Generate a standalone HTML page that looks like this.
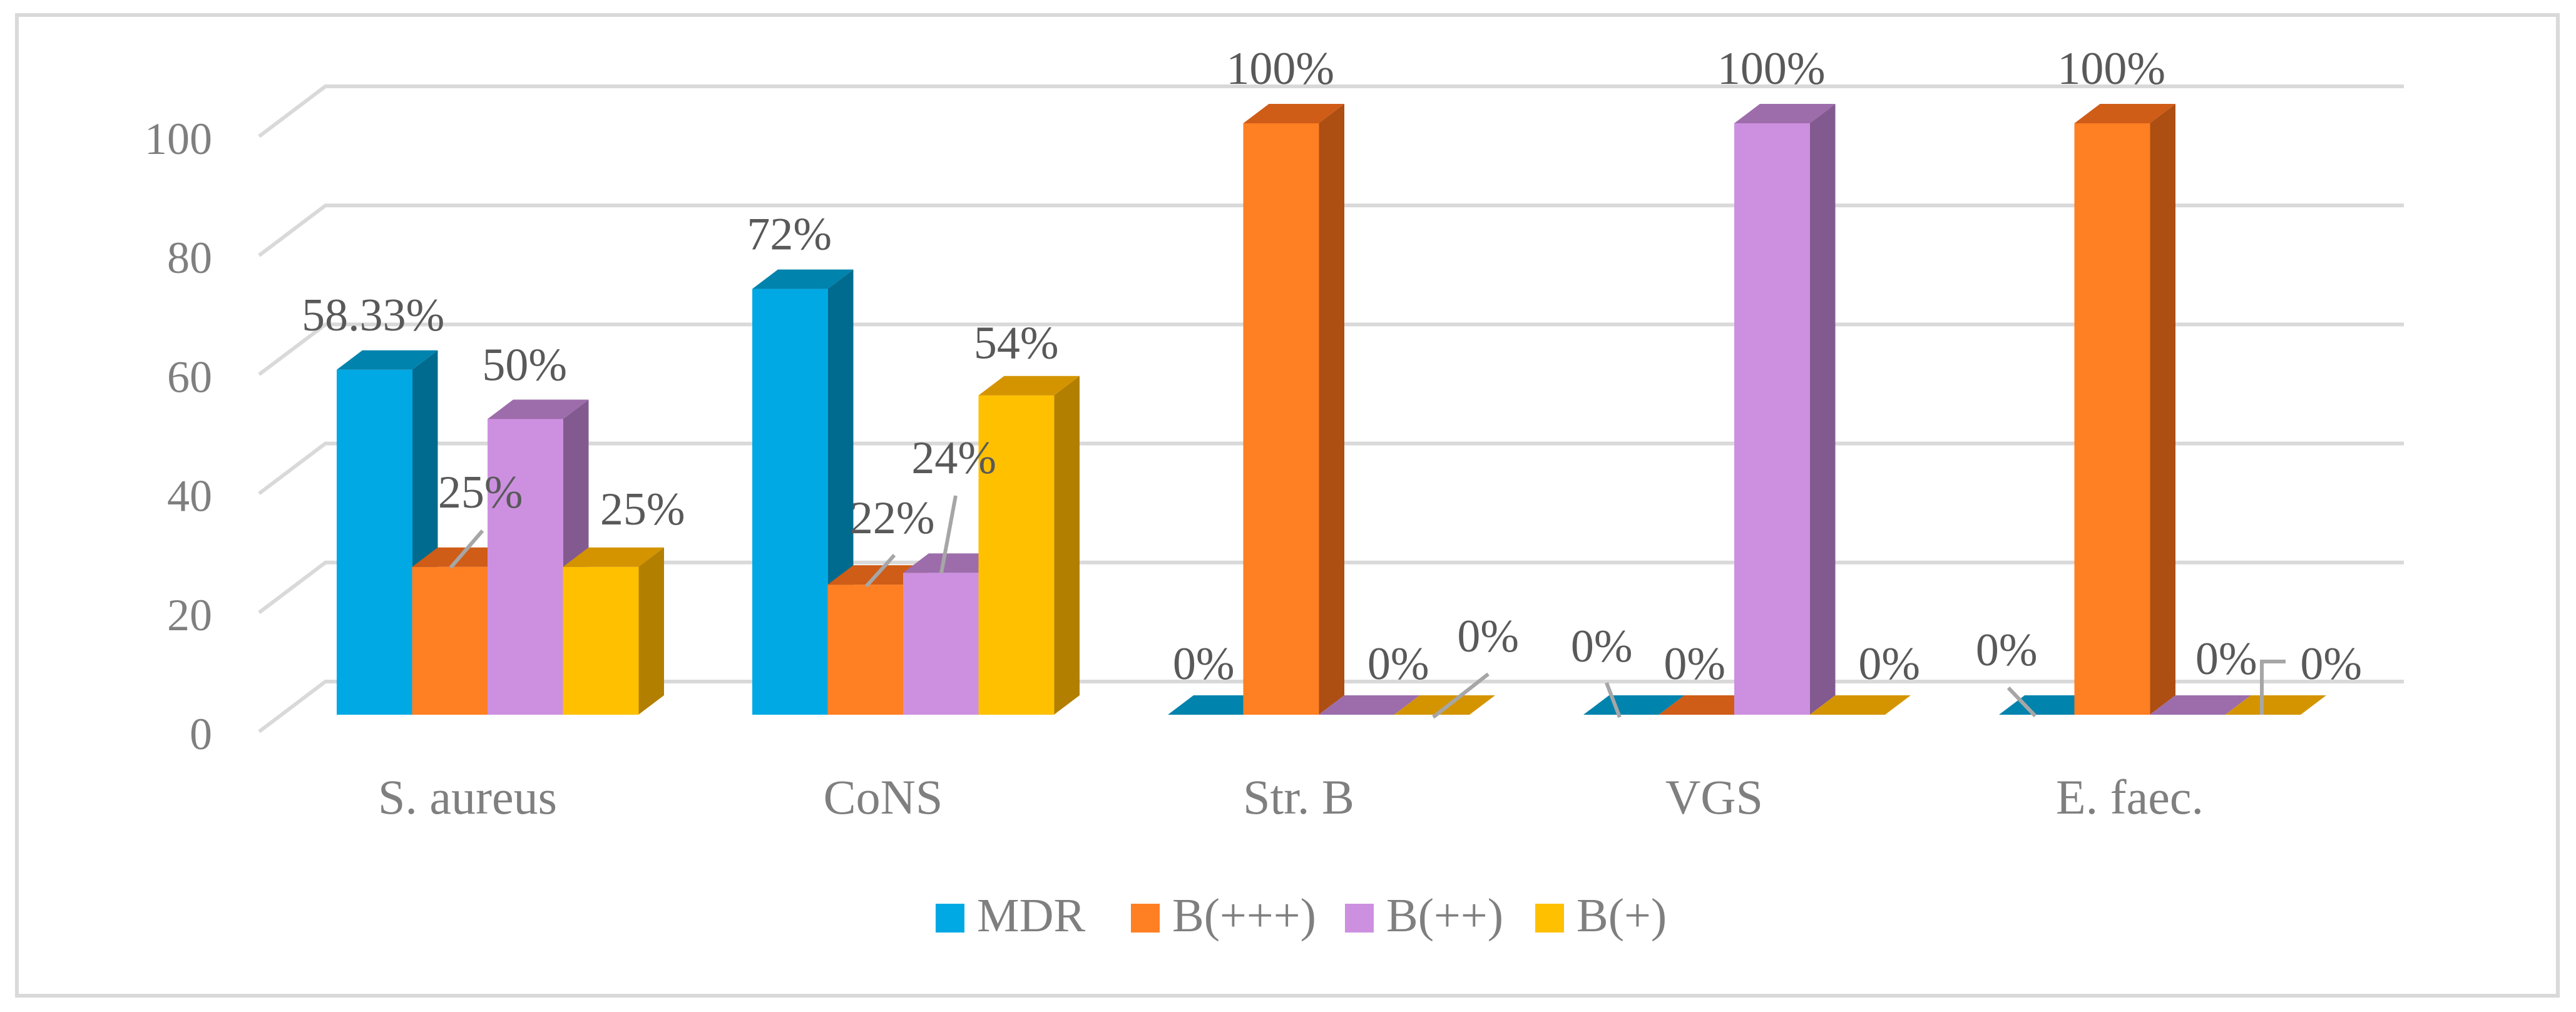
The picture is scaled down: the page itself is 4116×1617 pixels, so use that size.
<!DOCTYPE html>
<html><head><meta charset="utf-8"><style>
html,body{margin:0;padding:0;background:#fff;}
svg{display:block;}
text{font-family:"Liberation Serif",serif;}
</style></head><body>
<svg id="chart" width="4116" height="1617" viewBox="0 0 4116 1617" xmlns="http://www.w3.org/2000/svg">
<rect x="27" y="24" width="4060" height="1567" fill="#fff" stroke="#d9d9d9" stroke-width="6"/>
<g id="grid"></g><g id="yaxis"></g><g id="bars"></g><g id="leaders"></g><g id="labels"></g><g id="cats"></g><g id="legend"></g>
</svg>
<script>
const categories = ["S. aureus","CoNS","Str. B","VGS","E. faec."];
const seriesNames = ["MDR","B(+++)","B(++)","B(+)"];
const mdr = [58.33,72,0,0,0];
const bppp = [25,22,100,0,100];
const bpp = [50,24,0,100,0];
const bp = [25,54,0,0,0];
const valueLabels = [
 ["58.33%","25%","50%","25%"],
 ["72%","22%","24%","54%"],
 ["0%","100%","0%","0%"],
 ["0%","0%","100%","0%"],
 ["0%","100%","0%","0%"]
];
const yTicks = [0,20,40,60,80,100];

const series = [mdr,bppp,bpp,bp];
const colors = [
 {f:"#00a9e4",s:"#006b8f",t:"#0083ad"},
 {f:"#ff7f23",s:"#ad4e12",t:"#cf5c17"},
 {f:"#cd90e0",s:"#835a8f",t:"#9d6dab"},
 {f:"#ffc000",s:"#b37f00",t:"#d49400"}
];
const NS="http://www.w3.org/2000/svg";
function mk(tag,attrs,parent){const e=document.createElementNS(NS,tag);for(const k in attrs)e.setAttribute(k,attrs[k]);parent.appendChild(e);return e;}
const floorY=1142, unit=9.45, backZero=1089, backUnit=9.51;
const groupX0=538, groupStep=664, barW=120.5, dX=41, dY=-31;
function yF(v){return floorY-unit*v;}
function yB(v){return backZero-backUnit*v;}
function xBar(g,s){return groupX0+groupStep*g+barW*s;}

const grid=document.getElementById('grid'), yax=document.getElementById('yaxis');
yTicks.forEach(t=>{
  const yb=yB(t);
  const l=mk('polyline',{points:`414,${yb+80} 520,${yb} 3841,${yb}`,fill:'none',stroke:'#d9d9d9','stroke-width':6},grid);
  
  
  const tx=mk('text',{x:339,y:yb+108,'text-anchor':'end','font-size':72,fill:'#7f7f7f'},yax);
  tx.textContent=t;
  
  
});

const bars=document.getElementById('bars');
categories.forEach((c,g)=>{
  series.forEach((arr,s)=>{
    const v=arr[g], x=xBar(g,s), y=yF(v), col=colors[s];
    const grp=mk('g',{},bars);
    
    
    if(v>0){
      mk('polygon',{points:`${x+barW},${y} ${x+barW+dX},${y+dY} ${x+barW+dX},${floorY+dY} ${x+barW},${floorY}`,fill:col.s},grp);
      mk('rect',{x:x,y:y,width:barW+0.5,height:floorY-y,fill:col.f},grp);
    }
    mk('polygon',{points:`${x},${y} ${x+dX},${y+dY} ${x+barW+dX},${y+dY} ${x+barW},${y}`,fill:col.t},grp);
  });
});

// label offsets relative to bar centre/top (layout only)
const labOff = [
 [[-2,-63],[49,-95],[-1,-62],[67,-68]],
 [[-1,-63],[43,-82],[21,-159],[0,-59]],
 [[-3,-57],[-1,-63],[67,-57],[90,-101]],
 [[-31,-85],[-3,-57],[-1,-63],[67,-57]],
 [[-48,-79],[-1,-63],[62,-65],[109,-57]]
];
const labels=document.getElementById('labels');
categories.forEach((c,g)=>{
  series.forEach((arr,s)=>{
    const v=arr[g], cx=xBar(g,s)+barW/2, o=labOff[g][s];
    const t=mk('text',{x:cx+o[0],y:yF(v)+o[1],'text-anchor':'middle','font-size':74,fill:'#595959'},labels);
    t.textContent=valueLabels[g][s];
    
    
  });
});
const leaders=document.getElementById('leaders');
[
 "771,848 720,907","1429,887 1384,937","1527,792 1504,916",
 "2378,1077 2290,1146","2567,1091 2588,1146","3209,1099 3252,1144",
 "3652,1057 3614,1057 3614,1142"
].forEach((p,i)=>{
  const l=mk('polyline',{points:p,fill:'none',stroke:'#a6a6a6','stroke-width':6},leaders);
  
  
});

const cats=document.getElementById('cats');
categories.forEach((c,g)=>{
  const t=mk('text',{x:groupX0+groupStep*g+2*barW-32,y:1300,'text-anchor':'middle','font-size':78,fill:'#7f7f7f'},cats);
  t.textContent=c;
  
  
});

const legend=document.getElementById('legend');
const legSq=[1495,1807,2149,2453];
seriesNames.forEach((n,i)=>{
  const g=mk('g',{},legend);
  
  
  mk('rect',{x:legSq[i],y:1444,width:46,height:46,fill:colors[i].f},g);
  const t=mk('text',{x:legSq[i]+66,y:1488,'font-size':76,fill:'#7f7f7f'},g);
  t.textContent=n;
});
</script>
</body></html>
